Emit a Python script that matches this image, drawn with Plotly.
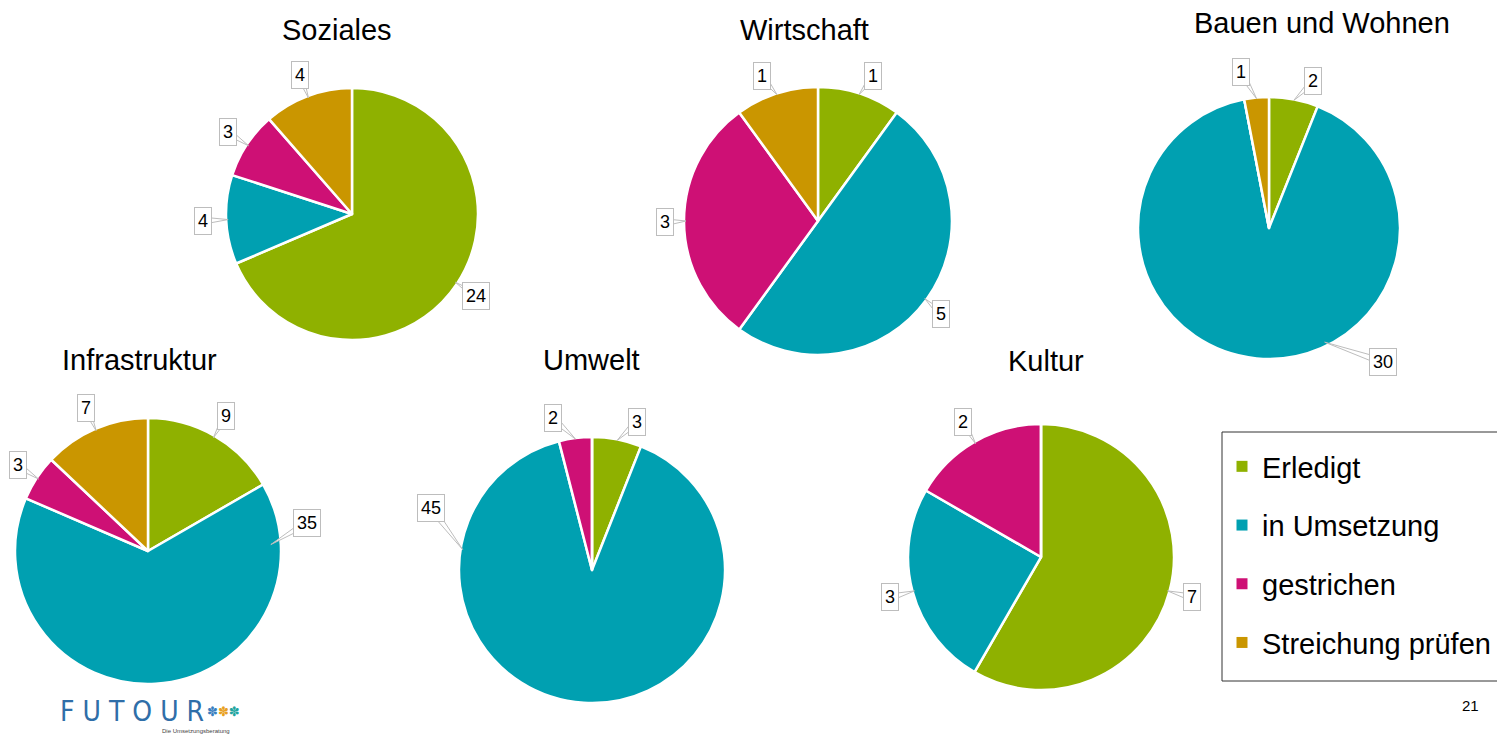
import math
import plotly.graph_objects as go

# ---------------- data ----------------
categories = ["Erledigt", "in Umsetzung", "gestrichen", "Streichung prüfen"]
chart_titles = ["Soziales", "Wirtschaft", "Bauen und Wohnen", "Infrastruktur", "Umwelt", "Kultur"]
soziales = [24, 4, 3, 4]
wirtschaft = [1, 5, 3, 1]
bauen_wohnen = [2, 30, 0, 1]
infrastruktur = [9, 35, 3, 7]
umwelt = [3, 45, 2, 0]
kultur = [7, 3, 2, 0]
page_number = "21"

series = [soziales, wirtschaft, bauen_wohnen, infrastruktur, umwelt, kultur]

# ---------------- style / layout ----------------
OFF = 8                      # page body margin of the html page
W, H = 1505 - OFF, 736 - OFF  # figure size
colors = ["#8FB100", "#00A0B1", "#CE1075", "#CA9600"]
FONT = "Liberation Sans, Arial, sans-serif"

# pie centre (px), radius (px), title centre (px) in window pixels
pie_geo = [
    dict(cx=352, cy=214, r=126, tx=337, ty=30),
    dict(cx=818, cy=221, r=134, tx=804, ty=30),
    dict(cx=1269, cy=228, r=131, tx=1322, ty=23),
    dict(cx=148, cy=551, r=133, tx=139, ty=360),
    dict(cx=592, cy=570, r=133, tx=591, ty=360),
    dict(cx=1041, cy=557, r=133, tx=1046, ty=361),
]
# callout placement overrides (chart index, slice index) -> angles in degrees clockwise from 12 o'clock
label_overrides = {
    (1, 1): dict(tip=126, inset=2, lab=127, extra=20),
    (1, 2): dict(tip=270, inset=2, lab=269.5, extra=19),
    (2, 1): dict(tip=154, inset=4, lab=139.6, extra=45),
    (3, 1): dict(tip=87, inset=10, lab=80, extra=28),
    (4, 1): dict(tip=279, inset=2, lab=291, extra=39),
    (2, 0): dict(tip=11, inset=1, lab=16.7, extra=22),
    (2, 3): dict(tip=354.5, inset=1, lab=349.8, extra=27),
    (4, 0): dict(tip=11, inset=1, lab=16.8, extra=22),
    (4, 2): dict(tip=352.8, inset=1, lab=345.6, extra=24),
    (1, 0): dict(tip=18, inset=1, lab=20.8, extra=21),
    (1, 3): dict(tip=342, inset=1, lab=338.9, extra=21),
}


def paper(x, y):
    return (x - OFF) / W, 1 - (y - OFF) / H


def polar(cx, cy, ang, dist):
    a = math.radians(ang)
    return cx + dist * math.sin(a), cy - dist * math.cos(a)


fig = go.Figure()
annotations = []
shapes = []

for ci, (title, vals) in enumerate(zip(chart_titles, series)):
    g = pie_geo[ci]
    cx, cy, r = g["cx"], g["cy"], g["r"]
    x0, y1 = paper(cx - r, cy - r)
    x1, y0 = paper(cx + r, cy + r)
    fig.add_trace(go.Pie(
        labels=categories, values=vals, sort=False, direction="clockwise", rotation=0,
        marker=dict(colors=colors, line=dict(color="white", width=2.5)),
        textinfo="none", hoverinfo="label+value", showlegend=False,
        domain=dict(x=[x0, x1], y=[y0, y1]),
    ))
    tx, ty = paper(g["tx"], g["ty"])
    annotations.append(dict(x=tx, y=ty, xref="paper", yref="paper", text=title, showarrow=False,
                            font=dict(size=29, color="black", family=FONT), xanchor="center", yanchor="middle"))
    total = sum(vals)
    cum = 0
    for si, v in enumerate(vals):
        if v == 0:
            cum += v
            continue
        mid = (cum + v / 2) / total * 360
        cum += v
        ov = label_overrides.get((ci, si), dict(tip=mid, inset=2, lab=mid, extra=23))
        tipx, tipy = polar(cx, cy, ov["tip"], r - ov["inset"])
        labx, laby = polar(cx, cy, ov["lab"], r + ov["extra"])
        # callout wedge
        dx, dy = tipx - labx, tipy - laby
        L = math.hypot(dx, dy)
        nx, ny = -dy / L, dx / L
        b1 = paper(labx + nx * 3.5, laby + ny * 3.5)
        b2 = paper(labx - nx * 3.5, laby - ny * 3.5)
        tp = paper(tipx, tipy)
        shapes.append(dict(type="path", xref="paper", yref="paper",
                           path=f"M {b1[0]},{b1[1]} L {tp[0]},{tp[1]} L {b2[0]},{b2[1]} Z",
                           fillcolor="white", line=dict(color="#BDBDBD", width=1), layer="above"))
        lx, ly = paper(labx, laby)
        annotations.append(dict(x=lx, y=ly, xref="paper", yref="paper", text=str(v), showarrow=False,
                                font=dict(size=18, color="black", family=FONT),
                                bgcolor="white", bordercolor="#BDBDBD", borderwidth=1, borderpad=3,
                                xanchor="center", yanchor="middle"))

# legend via marker-only traces
for i, (cat, col) in enumerate(zip(categories, colors)):
    fig.add_trace(go.Scatter(x=[None], y=[None], mode="markers", name=cat, legendgroup=f"g{i}",
                             marker=dict(symbol="square", size=11, color=col)))

# legend frame
lb0 = paper(1222, 681)
lb1 = paper(1506, 432)
shapes.append(dict(type="rect", xref="paper", yref="paper", x0=lb0[0], y0=lb0[1], x1=lb1[0], y1=lb1[1],
                   line=dict(color="#333333", width=1), fillcolor="rgba(0,0,0,0)", layer="above"))

# page number and logo
pn = paper(1481, 716)
annotations.append(dict(x=pn[0], y=pn[1], xref="paper", yref="paper",
                        text=page_number, showarrow=False, font=dict(size=15, color="black", family=FONT)))
lg = paper(58, 711)
annotations.append(dict(x=lg[0], y=lg[1], xref="paper", yref="paper",
                        text="F U T O U R", showarrow=False, xanchor="left", yanchor="middle",
                        font=dict(size=28, color="#2F6EA8", family="DejaVu Sans Condensed, sans-serif")))
ic = paper(205, 711)
annotations.append(dict(x=ic[0], y=ic[1], xref="paper", yref="paper",
                        text="<span style='color:#3A7FC0'>✽</span><span style='color:#E8A020'>✽</span><span style='color:#1FA5A0'>✽</span>",
                        showarrow=False, xanchor="left", yanchor="middle",
                        font=dict(size=13, family="DejaVu Sans, sans-serif")))
lt = paper(232, 731)
annotations.append(dict(x=lt[0], y=lt[1], xref="paper", yref="paper",
                        text="Die Umsetzungsberatung", showarrow=False, xanchor="right", yanchor="middle",
                        font=dict(size=6, color="#444444", family=FONT)))

lgpos = paper(1222, 441)
fig.update_layout(
    width=W, height=H, margin=dict(l=0, r=0, t=0, b=0),
    paper_bgcolor="white", plot_bgcolor="white",
    xaxis=dict(visible=False), yaxis=dict(visible=False),
    annotations=annotations, shapes=shapes,
    showlegend=True,
    legend=dict(x=lgpos[0], y=lgpos[1], xanchor="left", yanchor="top",
                borderwidth=0, bgcolor="rgba(0,0,0,0)",
                font=dict(size=29, color="black", family=FONT), tracegroupgap=18,
                itemsizing="trace"),
)

fig.write_html("out.html")
